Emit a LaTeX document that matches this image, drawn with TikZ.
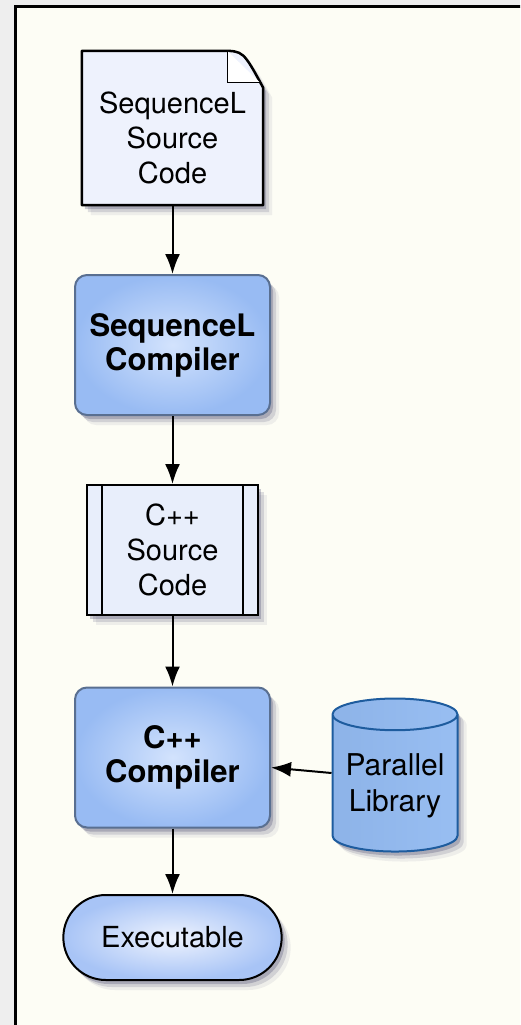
\documentclass[tikz,border=0pt]{standalone}
\usepackage{fontspec}
\setmainfont{TeX Gyre Heros}
\usetikzlibrary{positioning,shapes.geometric,shapes.misc,shadows,arrows.meta}

\definecolor{pagegray}{HTML}{EEEEEE}
\definecolor{framefill}{HTML}{FDFDF5}
\definecolor{docfill}{HTML}{EEF2FD}
\definecolor{srcfill}{HTML}{E8EEFB}
\definecolor{compinner}{HTML}{D3E3FD}
\definecolor{compouter}{HTML}{98BBF3}
\definecolor{compline}{HTML}{596F91}
\definecolor{exeinner}{HTML}{EEF3FE}
\definecolor{exeouter}{HTML}{A8C4F6}
\definecolor{libleft}{HTML}{8DB3E8}
\definecolor{libmid}{HTML}{B0D0FC}
\definecolor{libright}{HTML}{98BEF2}
\definecolor{libline}{HTML}{1E5C9E}
\definecolor{shadowblue}{HTML}{40406A}

\tikzset{
    softshadow/.style={
        drop shadow={shadow xshift=3pt,shadow yshift=-4pt,fill=shadowblue,opacity=.28},
        drop shadow={shadow xshift=6pt,shadow yshift=-7pt,fill=shadowblue,opacity=.16},
        drop shadow={shadow xshift=9pt,shadow yshift=-10pt,fill=shadowblue,opacity=.08}},
    plaintext/.style={font=\fontsize{29}{35}\selectfont, align=center},
    boldtext/.style={font=\fontsize{31}{34}\selectfont\bfseries, align=center},
    compiler/.style={rectangle, rounded corners=12pt, minimum width=195pt, minimum height=140pt,
        draw=compline, line width=2pt, inner color=compinner, outer color=compouter, softshadow, boldtext},
    flow/.style={-{Latex[length=20pt,width=15pt]}, line width=2pt},
}

\begin{document}
\begin{tikzpicture}[x=1pt, y=-1pt]
    \useasboundingbox (0,0) rectangle (520,1025);
    \clip (0,0) rectangle (520,1025);
    \fill[pagegray] (0,0) rectangle (520,1025);
    \draw[line width=3pt, fill=framefill] (15,7) rectangle (560,1060);

    % source document with folded corner
    \node[minimum width=181pt, minimum height=154pt] at (172.5,128) (Src) {};
    \draw[line width=2.5pt, fill=docfill, softshadow, line join=round]
        (Src.south west) -- (Src.north west) -- ([xshift=-42pt]Src.north east)
        .. controls ([xshift=-20pt]Src.north east) .. ([yshift=-37pt]Src.north east)
        -- (Src.south east) -- cycle;
    \draw[line width=1pt, fill=white]
        ([xshift=-36pt]Src.north east) -- ([xshift=-36pt,yshift=-32pt]Src.north east)
        -- ([xshift=-3pt,yshift=-32pt]Src.north east);
    \node[plaintext] at (172.5,138) (SrcText) {SequenceL\\Source\\Code};

    \node[compiler] at (172.5,345) (SeqComp) {SequenceL\\Compiler};

    % generated c++ file
    \node[rectangle, draw, line width=2pt, fill=srcfill, minimum width=171pt, minimum height=130pt,
        softshadow, plaintext] at (172.5,550) (CppSrc) {C++\\Source\\Code};
    \draw[line width=2pt] ([xshift=16pt]CppSrc.north west) -- ([xshift=16pt]CppSrc.south west);
    \draw[line width=2pt] ([xshift=-16pt]CppSrc.north east) -- ([xshift=-16pt]CppSrc.south east);

    \node[compiler] at (172.5,757.5) (CppComp) {C++\\Compiler};

    \node[cylinder, shape border rotate=90, aspect=0.3, minimum height=153pt, minimum width=125pt,
        draw=libline, line width=2pt, left color=libleft, middle color=libmid, right color=libright,
        softshadow, font=\fontsize{30}{36}\selectfont, align=center] at (395,786) (Lib) {Parallel\\Library};

    \node[rounded rectangle, minimum width=225pt, minimum height=85pt, draw, line width=2pt,
        inner color=exeinner, outer color=exeouter, softshadow, plaintext] at (172.5,937.5) (Exe) {Executable};

    \draw[flow] (Src.south) -- (SeqComp.north);
    \draw[flow] (SeqComp.south) -- (CppSrc.north);
    \draw[flow] (CppSrc.south) -- (CppComp.north);
    \draw[flow] (CppComp.south) -- (Exe.north);
    \draw[flow] ([yshift=13pt]Lib.west) -- ([yshift=-10pt]CppComp.east);
\end{tikzpicture}
\end{document}
